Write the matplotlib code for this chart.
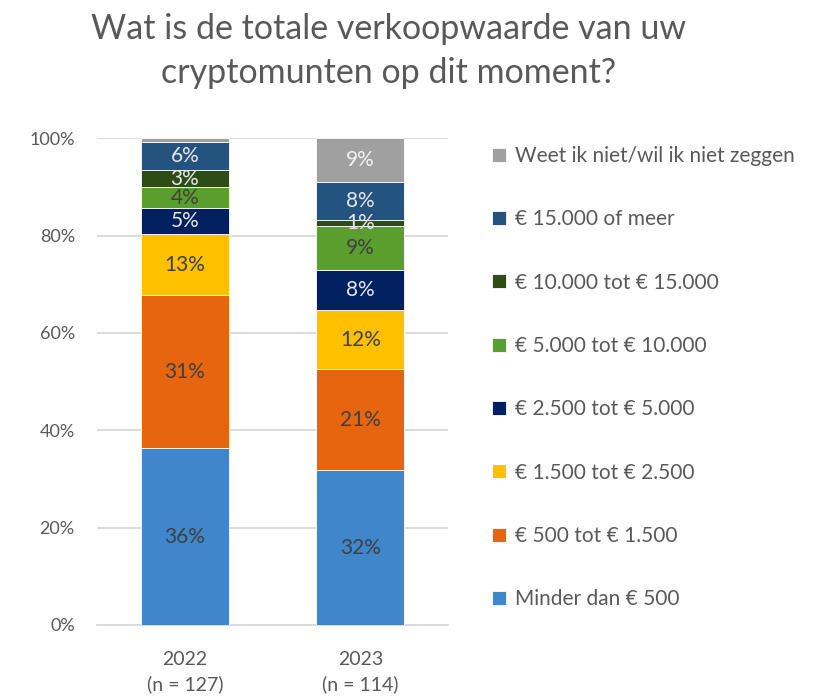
import matplotlib.pyplot as plt
import numpy as np

plt.rcParams['font.family'] = ['Lato', 'DejaVu Sans']

# Categories (bottom to top of the stack)
categories = [
    'Minder dan € 500',
    '€ 500 tot € 1.500',
    '€ 1.500 tot € 2.500',
    '€ 2.500 tot € 5.000',
    '€ 5.000 tot € 10.000',
    '€ 10.000 tot € 15.000',
    '€ 15.000 of meer',
    'Weet ik niet/wil ik niet zeggen',
]
years = ['2022\n(n = 127)', '2023\n(n = 114)']

# Shares in percent per category
share_2022 = [36.3, 31.4, 12.6, 5.3, 4.4, 3.4, 5.8, 0.8]
share_2023 = [31.8, 20.8, 12.1, 8.2, 9.1, 1.2, 7.9, 8.9]

colors = ['#3F86CA', '#E8650F', '#FFC000', '#002060',
          '#5A9F2E', '#2E4D16', '#23537E', '#A0A0A0']
label_colors = ['#404040', '#404040', '#404040', '#E6E6E6',
                '#404040', '#E6E6E6', '#E6E6E6', '#F2F2F2']

data = np.array([share_2022, share_2023])  # shape (years, categories)
x = np.arange(len(years))

fig = plt.figure(figsize=(8.18, 6.97), dpi=100)
ax = fig.add_axes([0.1186, 0.1033, 0.4291, 0.6983])

bottom = np.zeros(len(years))
handles = []
for i, cat in enumerate(categories):
    vals = data[:, i]
    bars = ax.bar(x, vals, 0.5, bottom=bottom, color=colors[i],
                  edgecolor='white', linewidth=0.6, label=cat, zorder=3)
    handles.append(bars)
    for xi, v, b in zip(x, vals, bottom):
        if v >= 1:
            ax.text(xi, b + v / 2, f'{v:.0f}%', ha='center', va='center',
                    fontsize=15, color=label_colors[i], zorder=4)
    bottom += vals

ax.set_ylim(0, 100)
ax.set_xlim(-0.5, 1.5)
ax.set_yticks(np.arange(0, 101, 20))
ax.set_yticklabels([f'{t}%' for t in range(0, 101, 20)])
ax.set_xticks(x)
ax.set_xticklabels(years, linespacing=1.45)
ax.tick_params(axis='y', length=0, pad=16, labelsize=13, labelcolor='#595959')
ax.tick_params(axis='x', length=0, pad=19, labelsize=14, labelcolor='#595959')
ax.grid(axis='y', color='#D9D9D9', linewidth=1.3, zorder=0)
for side in ['top', 'right', 'left']:
    ax.spines[side].set_visible(False)
ax.spines['bottom'].set_color('#D9D9D9')
ax.spines['bottom'].set_linewidth(1.3)

fig.text(0.4756, 0.944, 'Wat is de totale verkoopwaarde van uw',
         ha='center', va='baseline', fontsize=24.5, color='#595959')
fig.text(0.4756, 0.881, 'cryptomunten op dit moment?',
         ha='center', va='baseline', fontsize=24.5, color='#595959')

leg = fig.legend(handles[::-1], categories[::-1], loc='upper left',
                 bbox_to_anchor=(0.5785, 0.8175), frameon=False, fontsize=15,
                 labelspacing=2.08, handlelength=0.65, handleheight=0.65,
                 handletextpad=0.45, labelcolor='#595959')

plt.savefig('out.png', dpi=100)
